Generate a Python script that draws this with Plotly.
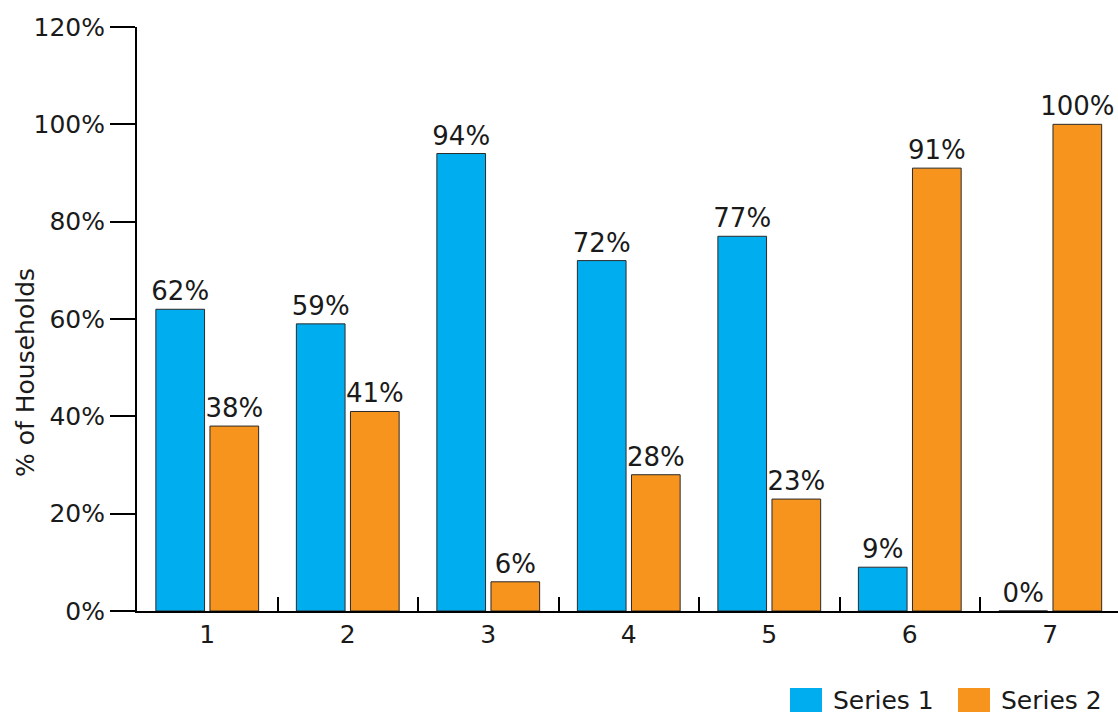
import plotly.graph_objects as go

categories = ["1", "2", "3", "4", "5", "6", "7"]
series_1 = [62, 59, 94, 72, 77, 9, 0]
series_2 = [38, 41, 6, 28, 23, 91, 100]
y_ticks = [0, 20, 40, 60, 80, 100, 120]
y_tick_labels = ["0%", "20%", "40%", "60%", "80%", "100%", "120%"]

BLUE = "#00AEEF"
ORANGE = "#F7941D"
FONT = "DejaVu Sans"
TEXT = "#1a1a1a"
SIZE = 25

fig = go.Figure()
for name, vals, col in [("Series 1", series_1, BLUE), ("Series 2", series_2, ORANGE)]:
    fig.add_trace(go.Bar(
        x=categories, y=vals, name=name,
        marker=dict(color=col, line=dict(color="#2a2a2a", width=1)),
        text=[f"{v}%" for v in vals], texttemplate="%{text}", textposition="outside",
        constraintext="none",
        textfont=dict(family=FONT, size=26, color=TEXT),
        cliponaxis=False,
    ))

# plot-area pixel geometry used to place the legend and axis title
L, R, T, B = 137, 1118, 27, 611


def px(x):
    return (x - L) / (R - L)


def py(y):
    return (B - y) / (B - T)


shapes = []
annotations = []
for x0, col, label in [(790, BLUE, "Series 1"), (958, ORANGE, "Series 2")]:
    shapes.append(dict(type="rect", xref="paper", yref="paper",
                       x0=px(x0), x1=px(x0 + 32), y0=py(688), y1=py(712),
                       fillcolor=col, line=dict(width=0)))
    annotations.append(dict(xref="paper", yref="paper", x=px(x0 + 41), y=py(700),
                            text=label, showarrow=False, xanchor="left", yanchor="middle",
                            font=dict(family=FONT, size=SIZE, color=TEXT)))

# y-axis title
annotations.append(dict(xref="paper", yref="paper", x=px(25), y=py(373),
                        text="% of Households", textangle=-90, showarrow=False,
                        xanchor="center", yanchor="middle",
                        font=dict(family=FONT, size=SIZE, color=TEXT)))

fig.update_layout(
    width=1118, height=717,
    margin=dict(l=L, r=1118 - R, t=T, b=717 - B),
    paper_bgcolor="white", plot_bgcolor="white",
    barmode="group", bargap=0.23, bargroupgap=0.1,
    showlegend=False,
    shapes=shapes, annotations=annotations,
    font=dict(family=FONT, size=SIZE, color=TEXT),
)
fig.update_xaxes(
    type="category", range=[-0.5, 6.482],
    showline=True, linecolor="black", linewidth=2,
    ticks="inside", tickson="boundaries", ticklen=14, tickwidth=2, tickcolor="black",
    tickfont=dict(family=FONT, size=SIZE, color=TEXT),
    showgrid=False, zeroline=False,
)
fig.update_yaxes(
    range=[0, 120], tickvals=y_ticks, ticktext=y_tick_labels,
    showline=True, linecolor="black", linewidth=2,
    ticks="outside", ticklen=25, tickwidth=2, tickcolor="black",
    tickfont=dict(family=FONT, size=SIZE, color=TEXT),
    showgrid=False, zeroline=False,
)

fig.write_html("out.html")
